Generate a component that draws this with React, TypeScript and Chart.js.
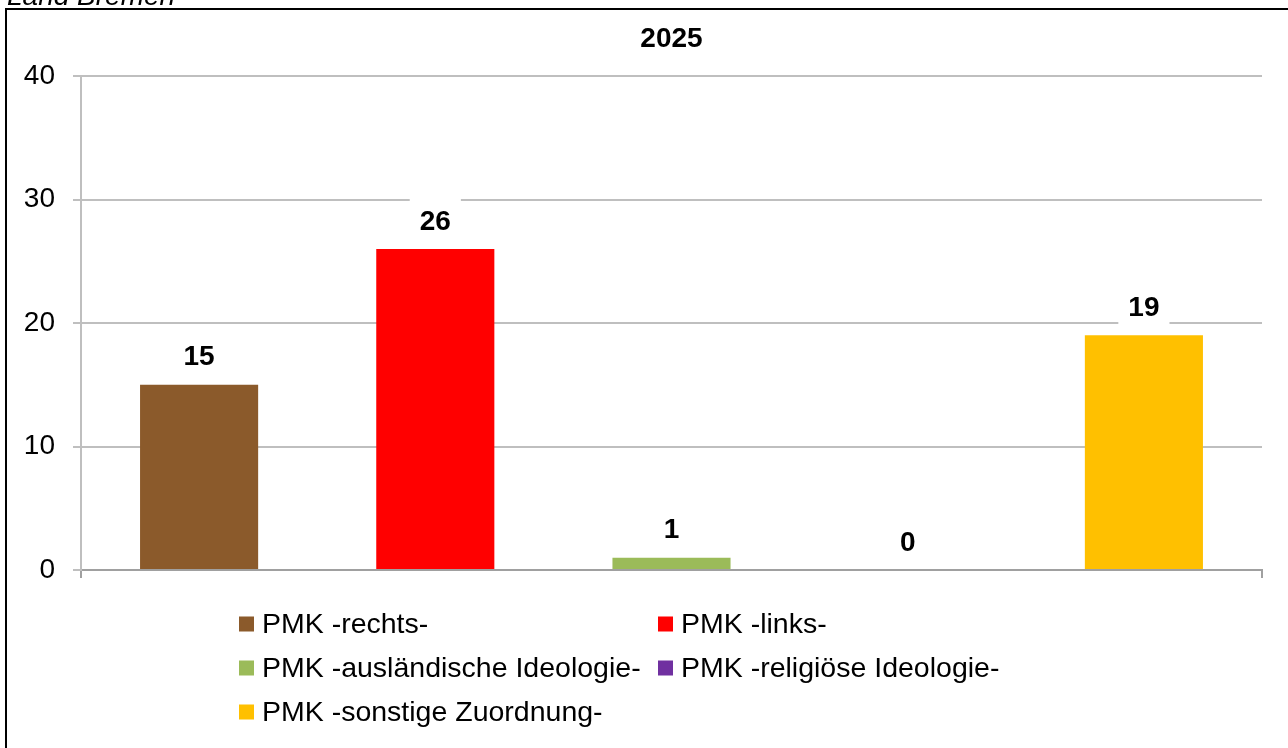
import React, { useEffect, useRef } from "react";
import { Chart, registerables } from "chart.js";

Chart.register(...registerables);

const categories = ["2025"];
const seriesNames = [
  "PMK -rechts-",
  "PMK -links-",
  "PMK -ausländische Ideologie-",
  "PMK -religiöse Ideologie-",
  "PMK -sonstige Zuordnung-",
];
const seriesValues = [15, 26, 1, 0, 19];
const seriesColors = ["#8B5A2B", "#FF0000", "#9BBB59", "#7030A0", "#FFC000"];
const yTicks = [0, 10, 20, 30, 40];
const chartTitle = "2025";
const caption = "Land Bremen";

const FONT = '"Liberation Sans", Arial, sans-serif';

const frameAndCaption = {
  id: "frameAndCaption",
  afterDraw(chart: any) {
    const ctx = chart.ctx;
    ctx.save();
    ctx.fillStyle = "#000";
    ctx.fillRect(5, 8, 2, chart.height - 8);
    ctx.fillRect(5, 8, chart.width - 5, 2);
    ctx.font = `italic 28px ${FONT}`;
    ctx.textBaseline = "alphabetic";
    ctx.textAlign = "left";
    ctx.fillText(caption, 7, 5);
    // chart title centred over the plot area
    ctx.font = `bold 28px ${FONT}`;
    ctx.textAlign = "center";
    ctx.textBaseline = "middle";
    const ca = chart.chartArea;
    ctx.fillText(chart.options.plugins.title.text, (ca.left + ca.right) / 2, 39);
    ctx.restore();
  },
};

const valueLabels = {
  id: "valueLabels",
  afterDatasetsDraw(chart: any) {
    const ctx = chart.ctx;
    ctx.save();
    ctx.font = `bold 28px ${FONT}`;
    ctx.textAlign = "center";
    ctx.textBaseline = "middle";
    chart.data.datasets.forEach((ds: any, i: number) => {
      const meta = chart.getDatasetMeta(i);
      meta.data.forEach((bar: any, j: number) => {
        const text = String(ds.data[j]);
        const cy = bar.y - 27;
        const w = ctx.measureText(text).width + 20;
        ctx.fillStyle = "#fff";
        ctx.fillRect(bar.x - w / 2, cy - 24, w, 48);
        ctx.fillStyle = "#000";
        ctx.fillText(text, bar.x, cy);
      });
    });
    ctx.restore();
  },
};

const gridLegend = {
  id: "gridLegend",
  afterDraw(chart: any) {
    const ctx = chart.ctx;
    const colX = [239, 658];
    const rowY = [624, 668, 712];
    ctx.save();
    ctx.font = `28.5px ${FONT}`;
    ctx.textAlign = "left";
    ctx.textBaseline = "middle";
    chart.data.datasets.forEach((ds: any, i: number) => {
      const x = colX[i % 2];
      const y = rowY[Math.floor(i / 2)];
      ctx.fillStyle = ds.backgroundColor;
      ctx.fillRect(x, y - 7.5, 15, 15);
      ctx.fillStyle = "#000";
      ctx.fillText(ds.label, x + 23, y + 1);
    });
    ctx.restore();
  },
};

export default function App() {
  const ref = useRef<HTMLCanvasElement>(null);
  useEffect(() => {
    if (!ref.current) return;
    const chart = new Chart(ref.current, {
      type: "bar",
      data: {
        labels: categories,
        datasets: seriesNames.map((name, i) => ({
          label: name,
          data: [seriesValues[i]],
          backgroundColor: seriesColors[i],
          borderWidth: 0,
          barPercentage: 0.5,
          categoryPercentage: 1.0,
        })),
      },
      options: {
        responsive: false,
        animation: false,
        devicePixelRatio: 1,
        layout: { padding: { top: 76, left: 0, right: 26, bottom: 170 } },
        plugins: {
          legend: { display: false },
          tooltip: { enabled: false },
          title: { display: false, text: chartTitle },
        },
        scales: {
          x: {
            offset: true,
            grid: {
              display: true,
              drawOnChartArea: false,
              drawTicks: true,
              tickLength: 8,
              color: "#a0a0a0",
              lineWidth: 2,
            },
            border: { display: true, color: "#a0a0a0", width: 2 },
            ticks: { display: false },
            afterFit(scale: any) {
              scale.height = 8;
            },
          },
          y: {
            min: 0,
            max: 40,
            afterBuildTicks(scale: any) {
              scale.ticks = yTicks.map((v) => ({ value: v }));
            },
            grid: {
              color: "#bfbfbf",
              lineWidth: 2,
              tickLength: 8,
              drawTicks: true,
            },
            border: { display: true, color: "#bfbfbf", width: 2 },
            ticks: {
              color: "#000",
              padding: 18,
              font: { family: FONT, size: 28 },
            },
            afterFit(scale: any) {
              scale.width = 81;
            },
          },
        },
      },
      plugins: [valueLabels, gridLegend, frameAndCaption],
    });
    return () => chart.destroy();
  }, []);
  return (
    <div style={{ position: "fixed", left: 0, top: 0, width: 1288, height: 748, background: "#fff" }}>
      <canvas ref={ref} width={1288} height={748} style={{ display: "block" }} />
    </div>
  );
}
